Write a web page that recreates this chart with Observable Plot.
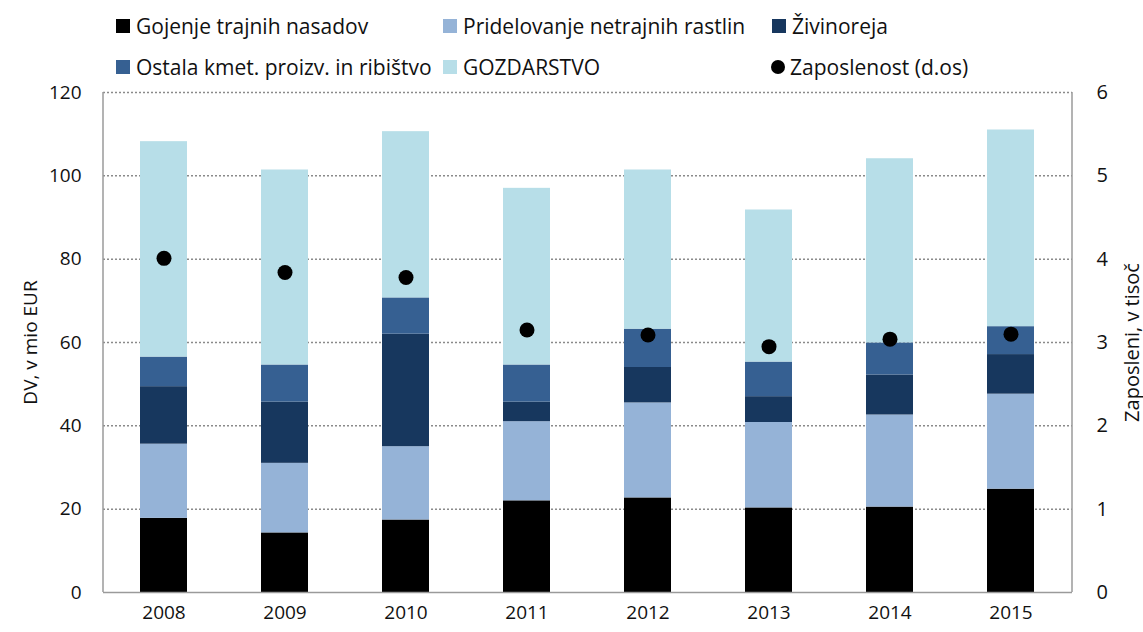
<!DOCTYPE html>
<html>
<head>
<meta charset="utf-8">
<script src="https://cdn.jsdelivr.net/npm/d3@7"></script>
<script src="https://cdn.jsdelivr.net/npm/@observablehq/plot@0.6"></script>
<style>
  html, body { margin: 0; padding: 0; background: #fff; }
  body { width: 1143px; height: 632px; position: relative; overflow: hidden; font-family: "Open Sans", Lato, sans-serif; }
  #legend { position: relative; z-index: 2; height: 70px; font-size: 21px; color: #111; }
  .item { position: absolute; display: flex; align-items: center; white-space: nowrap; transform: translateY(-50%); }
  .sw { width: 14px; height: 14px; margin-right: 6px; display: inline-block; }
  .dotsw { width: 14px; height: 14px; border-radius: 50%; margin-right: 5px; display: inline-block; background: #000; }
  #chart { position: relative; z-index: 1; }
  #chart svg { display: block; }
</style>
</head>
<body>
<div id="legend"></div>
<div id="chart"></div>
<script>
const years = ["2008", "2009", "2010", "2011", "2012", "2013", "2014", "2015"];
const seriesNames = ["Gojenje trajnih nasadov", "Pridelovanje netrajnih rastlin", "Živinoreja", "Ostala kmet. proizv. in ribištvo", "GOZDARSTVO"];
const seriesColors = ["#000000", "#95b3d7", "#17375e", "#366092", "#b7dee8"];
const gojenje      = [17.8, 14.3, 17.4, 22.0, 22.7, 20.3, 20.5, 24.8];
const pridelovanje = [17.8, 16.7, 17.6, 19.0, 22.8, 20.5, 22.1, 22.8];
const zivinoreja   = [13.8, 14.7, 27.0,  4.7,  8.5,  6.2,  9.6,  9.5];
const ostala       = [ 7.1,  8.9,  8.7,  8.9,  9.2,  8.3,  7.7,  6.7];
const gozdarstvo   = [51.7, 46.8, 39.9, 42.4, 38.2, 36.5, 44.2, 47.2];
const zaposlenost  = [4.01, 3.84, 3.78, 3.15, 3.09, 2.95, 3.04, 3.10];
const dotLabel = "Zaposlenost (d.os)";
const leftTicks = [0, 20, 40, 60, 80, 100, 120];
const rightTicks = [0, 1, 2, 3, 4, 5, 6];
const ratio = 20; // right axis 0–6 maps onto left 0–120

const seriesValues = [gojenje, pridelovanje, zivinoreja, ostala, gozdarstvo];
const table = [];
seriesNames.forEach((s, i) => years.forEach((y, j) => table.push({year: y, series: s, value: seriesValues[i][j]})));
const emp = years.map((y, j) => ({year: y, emp: zaposlenost[j]}));

// Legend (HTML above the SVG)
const legend = document.getElementById("legend");
const legendItems = [
  {label: seriesNames[0], color: seriesColors[0], x: 116, y: 26},
  {label: seriesNames[1], color: seriesColors[1], x: 443, y: 26},
  {label: seriesNames[2], color: seriesColors[2], x: 772, y: 26},
  {label: seriesNames[3], color: seriesColors[3], x: 116, y: 67},
  {label: seriesNames[4], color: seriesColors[4], x: 443, y: 67},
  {label: dotLabel, dot: true, x: 771, y: 67}
];
for (const it of legendItems) {
  const d = document.createElement("div");
  d.className = "item";
  d.style.left = it.x + "px";
  d.style.top = it.y + "px";
  const s = document.createElement("span");
  if (it.dot) s.className = "dotsw"; else { s.className = "sw"; s.style.background = it.color; }
  d.appendChild(s);
  const t = document.createElement("span");
  t.textContent = it.label;
  d.appendChild(t);
  legend.appendChild(d);
}

const sideLines = (index, scales, values, dim) => {
  const g = d3.create("svg:g").attr("stroke", "#9a9a9a").attr("stroke-width", 1.5);
  const top = dim.marginTop, bottom = dim.height - dim.marginBottom;
  const l = dim.marginLeft, r = dim.width - dim.marginRight;
  g.append("line").attr("x1", l).attr("x2", l).attr("y1", top).attr("y2", bottom);
  g.append("line").attr("x1", r).attr("x2", r).attr("y1", top).attr("y2", bottom);
  return g.node();
};

const chart = Plot.plot({
  width: 1143,
  height: 562,
  marginTop: 22,
  marginBottom: 40,
  marginLeft: 103,
  marginRight: 71,
  style: {fontFamily: "'Open Sans', Lato, sans-serif", fontSize: "19px", color: "#111", background: "transparent"},
  x: {domain: years, paddingInner: 0.61, paddingOuter: 0.305, label: null},
  y: {domain: [0, 120], label: null},
  color: {domain: seriesNames, range: seriesColors},
  marks: [
    Plot.ruleY(leftTicks.filter(d => d > 0), {stroke: "#8a8a8a", strokeWidth: 1.5, strokeDasharray: "2,2"}),
    Plot.barY(table, Plot.stackY({order: seriesNames}, {x: "year", y: "value", z: "series", fill: "series"})),
    Plot.dot(emp, {x: "year", y: d => d.emp * ratio, r: 7.5, fill: "black"}),
    Plot.ruleY([0], {stroke: "#9a9a9a", strokeWidth: 1.5}),
    sideLines,
    Plot.axisX({tickSize: 0, tickPadding: 13, label: null, fontSize: 19}),
    Plot.axisY({anchor: "left", ticks: leftTicks, tickSize: 0, tickPadding: 22, tickFormat: d => d,
      label: "DV, v mio EUR", labelAnchor: "center", labelOffset: 80, labelArrow: "none", fontSize: 19}),
    Plot.axisY({anchor: "right", ticks: rightTicks.map(d => d * ratio), tickSize: 0, tickPadding: 24,
      tickFormat: d => d / ratio, label: "Zaposleni, v tisoč", labelAnchor: "center", labelOffset: 66, labelArrow: "none", fontSize: 20})
  ]
});
document.getElementById("chart").appendChild(chart);
</script>
</body>
</html>
